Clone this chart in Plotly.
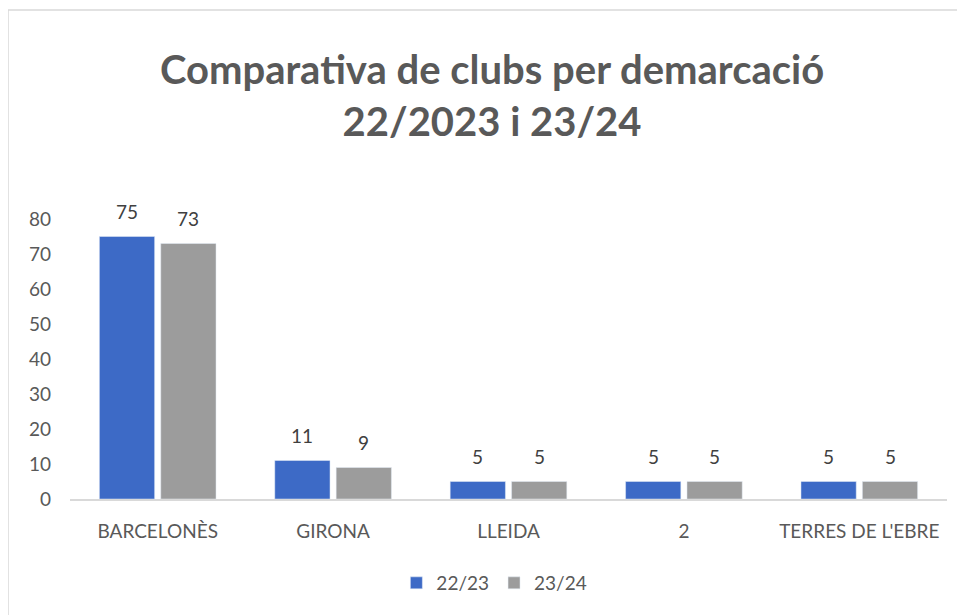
import plotly.graph_objects as go

# Nombre de clubs per demarcació
demarcacions = ["BARCELONÈS", "GIRONA", "LLEIDA", "2", "TERRES DE L'EBRE"]
clubs_22_23 = [75, 11, 5, 5, 5]
clubs_23_24 = [73, 9, 5, 5, 5]

font_name = "Lato"
grey_txt = "#595959"

fig = go.Figure()
fig.add_trace(go.Bar(x=demarcacions, y=clubs_22_23, name="22/23",
                     marker_color="#3D6AC6"))
fig.add_trace(go.Bar(x=demarcacions, y=clubs_23_24, name="23/24",
                     marker_color="#9C9C9C"))

# etiquetes de dades (una mica separades de la barra, com a l'Excel)
# x = index de categoria, perque "2" no es confongui amb la posicio 2
labels = []
for serie, shift in [(clubs_22_23, -30.7), (clubs_23_24, 30.7)]:
    for i, val in enumerate(serie):
        labels.append(dict(x=i, y=val, text=str(val), showarrow=False,
                           xshift=shift, yshift=12, yanchor="bottom",
                           font=dict(size=19, color="#404040")))

fig.update_layout(
    width=965, height=615,
    margin=dict(l=62, r=26, t=211, b=124, autoexpand=False),
    paper_bgcolor="white", plot_bgcolor="white",
    font=dict(family=font_name, size=19, color=grey_txt),
    title=dict(text="<b>Comparativa de clubs per demarcació<br>22/2023 i 23/24</b>",
               x=0.5016, xanchor="center", y=1 - 76 / 615, yanchor="middle",
               font=dict(family=font_name, size=40, color=grey_txt)),
    barmode="group", bargap=0.30, bargroupgap=0.1,
    showlegend=True,
    legend=dict(orientation="h", xref="container", yref="container",
                x=0.504, xanchor="center", y=1 - 575 / 615, yanchor="middle",
                font=dict(size=19, color=grey_txt), itemwidth=30),
    annotations=labels,
    shapes=[dict(type="rect", xref="paper", yref="paper",
                 x0=-0.0707, x1=1.03, y0=-0.6, y1=1.746,
                 line=dict(color="#D9D9D9", width=1.5), layer="below")],
)
fig.update_yaxes(range=[0, 80], dtick=10, showgrid=False, zeroline=False,
                 showline=False, ticks="", ticklabelstandoff=18,
                 tickfont=dict(size=19, color=grey_txt))
fig.update_xaxes(showgrid=False, showline=True, linecolor="#D9D9D9", linewidth=2,
                 ticks="", tickfont=dict(size=19, color=grey_txt), ticklabelstandoff=14)

fig.write_html("out.html")
